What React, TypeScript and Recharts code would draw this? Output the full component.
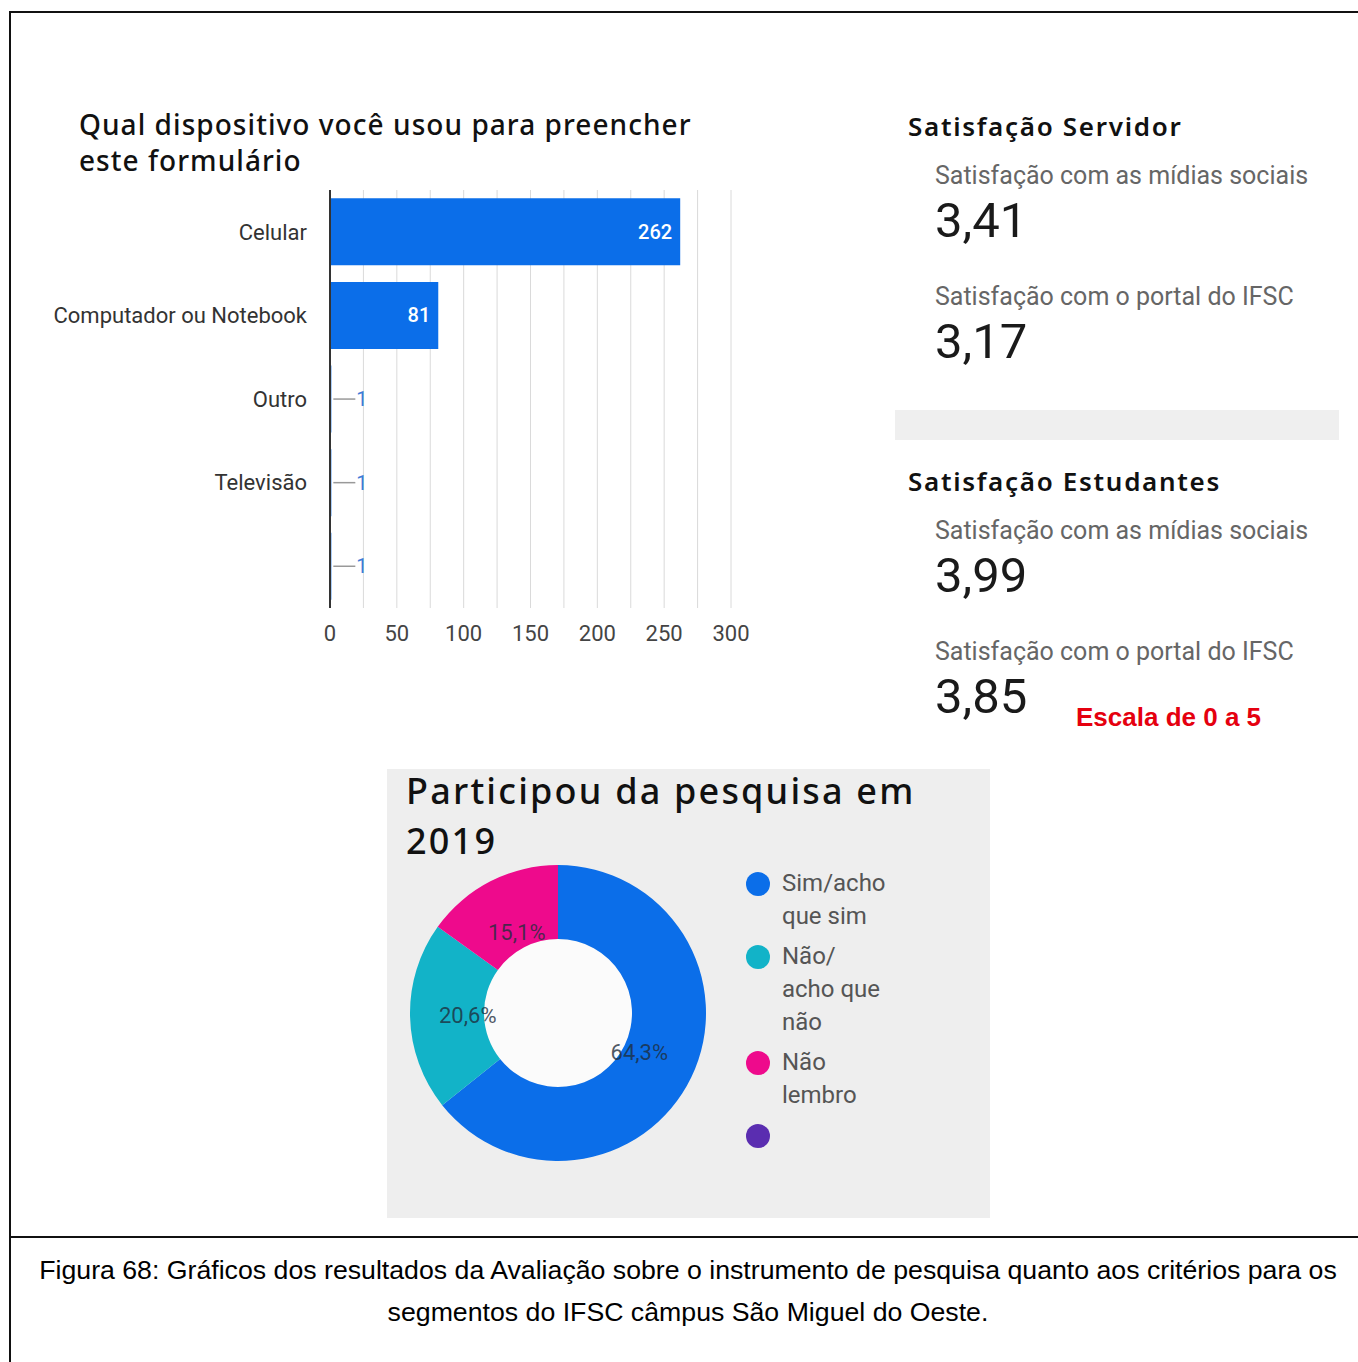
import React from 'react';
import { BarChart, Bar, XAxis, YAxis, CartesianGrid, PieChart, Pie, Cell, Legend } from 'recharts';

// dispositivo usado
const devices = ['Celular', 'Computador ou Notebook', 'Outro', 'Televisão', ''];
const deviceCounts = [262, 81, 1, 1, 1];
const xTicks = [0, 25, 50, 75, 100, 125, 150, 175, 200, 225, 250, 275, 300];

// participação em 2019
const participationNames = ['Sim/acho que sim', 'Não/ acho que não', 'Não lembro', ''];
const participationValues = [64.3, 20.6, 15.1, 0];
const participationColors = ['#0b6ee9', '#12b3c8', '#ee0a8c', '#5a2db0'];
const hole = [{ name: 'hole', value: 1 }];

// indicadores
const kpiLabels = ['Satisfação com as mídias sociais', 'Satisfação com o portal do IFSC'];
const servidorValues = ['3,41', '3,17'];
const estudantesValues = ['3,99', '3,85'];

const deviceData = devices.map((d, i) => ({ device: d, count: deviceCounts[i] }));
const participationData = participationNames.map((n, i) => ({ name: n, value: participationValues[i] }));

const BLUE = '#0b6ee9';
const HEAD_FONT = '"Noto Sans", sans-serif';
const BODY_FONT = 'Roboto, sans-serif';

const XTick = (props: any) => {
  const { x, y, payload } = props;
  if (payload.value % 50 !== 0) return null;
  return (
    <text x={x} y={y} dy="0.71em" textAnchor="middle" fill="#444" fontSize={22} fontFamily={BODY_FONT}>
      {payload.value}
    </text>
  );
};

const renderBarLabel = (props: any) => {
  const { x, y, width, height, value } = props;
  const cy = y + height / 2;
  if (width < 30) {
    return (
      <g>
        <line x1={x + width + 2} x2={x + width + 24} y1={cy} y2={cy} stroke="#999" strokeWidth={1.5} />
        <text x={x + width + 25} y={cy} dominantBaseline="central" fill="#3d7bd9" fontSize={20} fontFamily={BODY_FONT}>
          {value}
        </text>
      </g>
    );
  }
  return (
    <text x={x + width - 8} y={cy} textAnchor="end" dominantBaseline="central" fill="#fff" fontSize={20} fontWeight={500} fontFamily={BODY_FONT}>
      {value}
    </text>
  );
};

const RADIAN = Math.PI / 180;
const renderPieLabel = (props: any) => {
  const { cx, cy, midAngle, innerRadius, outerRadius, percent } = props;
  if (!percent) return null;
  const r = innerRadius + (outerRadius - innerRadius) * 0.22;
  const x = cx + r * Math.cos(-midAngle * RADIAN);
  const y = cy + r * Math.sin(-midAngle * RADIAN);
  return (
    <text x={x} y={y} textAnchor="middle" dominantBaseline="central" fill="#1e2d3c" fillOpacity={0.8} fontSize={22} fontFamily={BODY_FONT}>
      {(percent * 100).toFixed(1).replace('.', ',') + '%'}
    </text>
  );
};

const renderLegend = () => (
  <div style={{ display: 'flex', flexDirection: 'column' }}>
    {participationData.map((entry, i) => (
      <div key={i} style={{ display: 'flex', alignItems: 'flex-start', marginBottom: 7 }}>
        <span style={{ width: 24, height: 24, borderRadius: '50%', background: participationColors[i], marginTop: 4.5, flexShrink: 0 }} />
        <span style={{ marginLeft: 12, width: 106, fontSize: 24, lineHeight: '33px', color: '#555', fontFamily: BODY_FONT }}>
          {entry.name}
        </span>
      </div>
    ))}
  </div>
);

const Kpi = ({ top, title, values }: { top: number; title: string; values: string[] }) => (
  <div style={{ position: 'absolute', left: 908, top }}>
    <div style={{ fontFamily: HEAD_FONT, fontWeight: 600, fontSize: 26, lineHeight: '34px', letterSpacing: 1.7, color: '#111' }}>{title}</div>
    {kpiLabels.map((lab, i) => (
      <div key={i} style={{ marginLeft: 27, marginTop: i === 0 ? 19 : 34 }}>
        <div style={{ fontFamily: BODY_FONT, fontSize: 25, lineHeight: '28px', color: '#666' }}>{lab}</div>
        <div style={{ fontFamily: BODY_FONT, fontSize: 49, lineHeight: '56px', color: '#1a1a1a', marginTop: 3 }}>{values[i]}</div>
      </div>
    ))}
  </div>
);

export default function App() {
  return (
    <div style={{ position: 'absolute', left: 0, top: 0, width: 1358, height: 1362, background: '#fff', overflow: 'hidden' }}>
      {/* moldura */}
      <div style={{ position: 'absolute', left: 10, top: 11, width: 1400, height: 2, background: '#111' }} />
      <div style={{ position: 'absolute', left: 9, top: 11, width: 2, height: 1400, background: '#111' }} />
      <div style={{ position: 'absolute', left: 10, top: 1236, width: 1400, height: 2, background: '#111' }} />

      {/* barras */}
      <div style={{ position: 'absolute', left: 79, top: 106, fontFamily: HEAD_FONT, fontWeight: 500, fontSize: 28, lineHeight: '36px', letterSpacing: 1.05, color: '#111' }}>
        Qual dispositivo você usou para preencher
        <br />
        este formulário
      </div>
      <div style={{ position: 'absolute', left: 0, top: 180 }}>
        <BarChart layout="vertical" width={760} height={480} data={deviceData} margin={{ top: 10, right: 29, bottom: 12, left: 0 }} barCategoryGap="10%">
          <CartesianGrid horizontal={false} stroke="#dadada" />
          <XAxis type="number" domain={[0, 300]} ticks={xTicks} axisLine={false} tickLine={false} tickSize={0} tickMargin={17} height={40} tick={<XTick />} interval={0} />
          <YAxis
            type="category"
            dataKey="device"
            width={330}
            axisLine={{ stroke: '#333', strokeWidth: 2 }}
            tickLine={false}
            tickSize={0}
            tickMargin={23}
            tick={{ fill: '#333', fontSize: 22, fontFamily: BODY_FONT }}
            interval={0}
          />
          <Bar dataKey="count" fill={BLUE} isAnimationActive={false} label={renderBarLabel} />
        </BarChart>
      </div>

      {/* indicadores */}
      <Kpi top={109} title="Satisfação Servidor" values={servidorValues} />
      <div style={{ position: 'absolute', left: 895, top: 410, width: 444, height: 30, background: '#efefef' }} />
      <Kpi top={464} title="Satisfação Estudantes" values={estudantesValues} />
      <div style={{ position: 'absolute', left: 1076, top: 701, fontFamily: '"Liberation Sans", Arial, sans-serif', fontWeight: 700, fontSize: 26, lineHeight: '32px', color: '#e5000f' }}>
        Escala de 0 a 5
      </div>

      {/* rosca */}
      <div style={{ position: 'absolute', left: 387, top: 769, width: 603, height: 449, background: '#eeeeee' }}>
        <div style={{ position: 'absolute', left: 19, top: -3, fontFamily: HEAD_FONT, fontWeight: 500, fontSize: 36, lineHeight: '50px', letterSpacing: 2.2, color: '#111' }}>
          Participou da pesquisa em
          <br />
          2019
        </div>
        <div style={{ position: 'absolute', left: 0, top: 0 }}>
          <PieChart width={603} height={449}>
            <Pie data={hole} dataKey="value" cx={166} cy={239} outerRadius={74} fill="#fbfbfb" stroke="none" legendType="none" isAnimationActive={false} />
            <Pie
              data={participationData}
              dataKey="value"
              nameKey="name"
              cx={166}
              cy={239}
              innerRadius={74}
              outerRadius={148}
              startAngle={90}
              endAngle={-270}
              stroke="none"
              label={renderPieLabel}
              labelLine={false}
              isAnimationActive={false}
            >
              {participationData.map((_, i) => (
                <Cell key={i} fill={participationColors[i]} />
              ))}
            </Pie>
            <Legend content={renderLegend} layout="vertical" align="right" verticalAlign="top" wrapperStyle={{ left: 359, top: 98, right: 'auto', width: 200 }} />
          </PieChart>
        </div>
      </div>

      {/* legenda da figura */}
      <div style={{ position: 'absolute', left: 10, top: 1249, width: 1356, textAlign: 'center', fontFamily: '"Liberation Sans", Arial, sans-serif', fontSize: 26.7, lineHeight: '42px', color: '#000' }}>
        Figura 68: Gráficos dos resultados da Avaliação sobre o instrumento de pesquisa quanto aos critérios para os
        <br />
        segmentos do IFSC câmpus São Miguel do Oeste.
      </div>
    </div>
  );
}
